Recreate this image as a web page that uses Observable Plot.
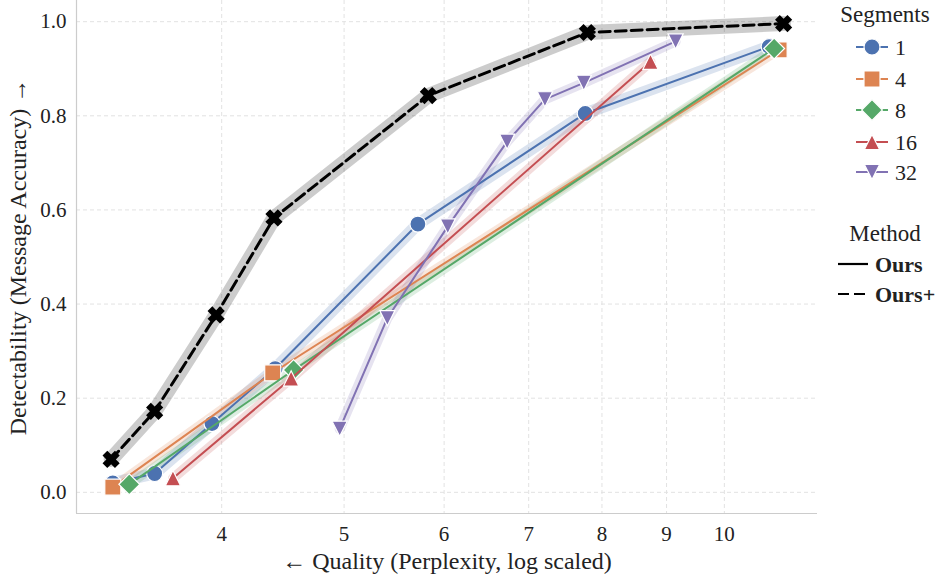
<!DOCTYPE html>
<html>
<head>
<meta charset="utf-8">
<script src="https://cdn.jsdelivr.net/npm/d3@7"></script>
<script src="https://cdn.jsdelivr.net/npm/@observablehq/plot@0.6"></script>
<style>
  html, body { margin: 0; padding: 0; background: #fff; }
  #wrap { position: relative; width: 935px; height: 578px; }
  #legend { position: absolute; left: 0; top: 0; pointer-events: none; }
</style>
</head>
<body>
<div id="wrap"><div id="chart"></div><svg id="legend" width="935" height="578"></svg></div>
<script>
// ---------- data ----------
const segmentNames = ["1", "4", "8", "16", "32"];
const segmentColors = ["#4C72B0", "#DD8452", "#55A868", "#C44E52", "#8172B3"];

const seg1Ppl  = [3.28, 3.54, 3.93, 4.41, 5.72, 7.76, 10.85];
const seg1Acc  = [0.020, 0.040, 0.146, 0.263, 0.570, 0.805, 0.947];
const seg4Ppl  = [3.28, 4.39, 11.05];
const seg4Acc  = [0.011, 0.254, 0.940];
const seg8Ppl  = [3.38, 4.56, 10.95];
const seg8Acc  = [0.017, 0.260, 0.943];
const seg16Ppl = [3.66, 4.54, 8.74];
const seg16Acc = [0.030, 0.242, 0.915];
const seg32Ppl = [4.96, 5.41, 6.04, 6.73, 7.21, 7.74, 9.15];
const seg32Acc = [0.135, 0.370, 0.565, 0.745, 0.835, 0.870, 0.958];

const oursPlusPpl = [3.27, 3.54, 3.96, 4.40, 5.83, 7.79, 11.14];
const oursPlusAcc = [0.070, 0.172, 0.377, 0.583, 0.843, 0.977, 0.996];

const xTicks = [4, 5, 6, 7, 8, 9, 10];
const yTicks = [0, 0.2, 0.4, 0.6, 0.8, 1.0];
const xDomain = [3.07, 11.85];
const yDomain = [-0.045, 1.045];

const xLabel = "\u2190 Quality (Perplexity, log scaled)";
const yLabel = "Detectability (Message Accuracy) \u2192";
const methodNames = ["Ours", "Ours+"];

// ---------- symbols (matplotlib-like) ----------
function poly(ctx, pts) {
  ctx.moveTo(pts[0][0], pts[0][1]);
  for (let i = 1; i < pts.length; i++) ctx.lineTo(pts[i][0], pts[i][1]);
  ctx.closePath();
}
const symSquare = { draw(ctx, size) { const s = Math.sqrt(size / Math.PI); poly(ctx, [[-s,-s],[s,-s],[s,s],[-s,s]]); } };
const symDiamond = { draw(ctx, size) { const d = Math.sqrt(size / Math.PI) * 1.3; poly(ctx, [[0,-d],[d,0],[0,d],[-d,0]]); } };
const symTriUp = { draw(ctx, size) { const h = Math.sqrt(size / Math.PI) * 0.95; poly(ctx, [[0,-h],[h,h],[-h,h]]); } };
const symTriDown = { draw(ctx, size) { const h = Math.sqrt(size / Math.PI) * 0.95; poly(ctx, [[0,h],[h,-h],[-h,-h]]); } };
const symX = { draw(ctx, size) {
  const r = Math.sqrt(size / Math.PI), a = r * 1.1, t = r * 0.42;
  const plus = [[-t,-a],[t,-a],[t,-t],[a,-t],[a,t],[t,t],[t,a],[-t,a],[-t,t],[-a,t],[-a,-t],[-t,-t]];
  const c = Math.SQRT1_2;
  poly(ctx, plus.map(([x, y]) => [(x - y) * c, (x + y) * c]));
} };
const segmentSymbols = [d3.symbolCircle, symSquare, symDiamond, symTriUp, symTriDown];
const bandWidths = [12, 9, 9, 10, 10];

const segPpl = [seg1Ppl, seg4Ppl, seg8Ppl, seg16Ppl, seg32Ppl];
const segAcc = [seg1Acc, seg4Acc, seg8Acc, seg16Acc, seg32Acc];
const series = segmentNames.map((name, k) => ({
  name, color: segmentColors[k], symbol: segmentSymbols[k], band: bandWidths[k],
  rows: segPpl[k].map((p, i) => ({ ppl: p, acc: segAcc[k][i] }))
}));
const oursPlusRows = oursPlusPpl.map((p, i) => ({ ppl: p, acc: oursPlusAcc[i] }));

const font = "'Liberation Serif', 'Times New Roman', serif";

// ---------- marks ----------
const marks = [
  Plot.gridY(yTicks, { stroke: "#e2e2e2", strokeOpacity: 1, strokeDasharray: "4,3" }),
  Plot.gridX(xTicks, { stroke: "#e2e2e2", strokeOpacity: 1, strokeDasharray: "4,3" }),
  Plot.ruleY([yDomain[0]], { stroke: "#cccccc", strokeWidth: 1.2 }),
  Plot.ruleX([xDomain[0]], { stroke: "#cccccc", strokeWidth: 1.2 })
];
// bands
for (const s of series) {
  marks.push(Plot.line(s.rows, { x: "ppl", y: "acc", stroke: s.color, strokeWidth: s.band, strokeOpacity: 0.2, strokeLinejoin: "round" }));
}
marks.push(Plot.line(oursPlusRows, { x: "ppl", y: "acc", stroke: "#000", strokeWidth: 15, strokeOpacity: 0.2, strokeLinejoin: "round" }));
// lines + markers
for (const s of series) {
  marks.push(Plot.line(s.rows, { x: "ppl", y: "acc", stroke: s.color, strokeWidth: 2 }));
  marks.push(Plot.dot(s.rows, { x: "ppl", y: "acc", symbol: s.symbol, r: 8, fill: s.color, fillOpacity: 1, stroke: "white", strokeWidth: 1.2 }));
}
marks.push(Plot.line(oursPlusRows, { x: "ppl", y: "acc", stroke: "#000", strokeWidth: 3, strokeDasharray: "11,5" }));
marks.push(Plot.dot(oursPlusRows, { x: "ppl", y: "acc", symbol: symX, r: 8, fill: "#000", fillOpacity: 1, stroke: "none" }));
// axes
marks.push(Plot.axisX(xTicks, { tickSize: 0, tickPadding: 13, fontSize: 21, tickFormat: d => String(d), label: null }));
marks.push(Plot.axisY(yTicks, { tickSize: 0, tickPadding: 10, fontSize: 21, tickFormat: d3.format(".1f"), label: null }));
marks.push(Plot.text([xLabel], { text: d => d, frameAnchor: "bottom", textAnchor: "middle", dy: 55, fontSize: 24, fill: "#222" }));
marks.push(Plot.text([yLabel], { text: d => d, frameAnchor: "left", textAnchor: "middle", rotate: -90, dx: -58, fontSize: 24, fill: "#222" }));

const chart = Plot.plot({
  width: 935,
  height: 578,
  marginLeft: 76,
  marginRight: 118,
  marginTop: 0,
  marginBottom: 65,
  style: { fontFamily: font, color: "#222", background: "white", overflow: "visible" },
  x: { type: "log", domain: xDomain },
  y: { domain: yDomain },
  marks
});
document.getElementById("chart").appendChild(chart);

// ---------- legend ----------
const lg = d3.select("#legend").style("font-family", font);
lg.append("text").attr("x", 885).attr("y", 22).attr("text-anchor", "middle").attr("font-size", 23).attr("fill", "#222").text("Segments");
const rowY = [47, 79, 110, 142, 172];
series.forEach((s, k) => {
  const y = rowY[k];
  lg.append("line").attr("x1", 856).attr("x2", 888).attr("y1", y).attr("y2", y).attr("stroke", s.color).attr("stroke-width", 2);
  lg.append("path").attr("transform", `translate(872,${y})`).attr("d", d3.symbol(s.symbol, Math.PI * 64)())
    .attr("fill", s.color).attr("stroke", "white").attr("stroke-width", 1.2);
  lg.append("text").attr("x", 895).attr("y", y + 7.5).attr("font-size", 22).attr("fill", "#222").text(s.name);
});
lg.append("text").attr("x", 885).attr("y", 241).attr("text-anchor", "middle").attr("font-size", 23).attr("fill", "#222").text("Method");
const mY = [264, 294];
methodNames.forEach((m, k) => {
  lg.append("line").attr("x1", 838).attr("x2", 868).attr("y1", mY[k]).attr("y2", mY[k]).attr("stroke", "#000").attr("stroke-width", 2.2)
    .attr("stroke-dasharray", k === 1 ? "11,5" : null);
  lg.append("text").attr("x", 875).attr("y", mY[k] + 7.5).attr("font-size", 22).attr("font-weight", "bold").attr("fill", "#222").text(m);
});
</script>
</body>
</html>
